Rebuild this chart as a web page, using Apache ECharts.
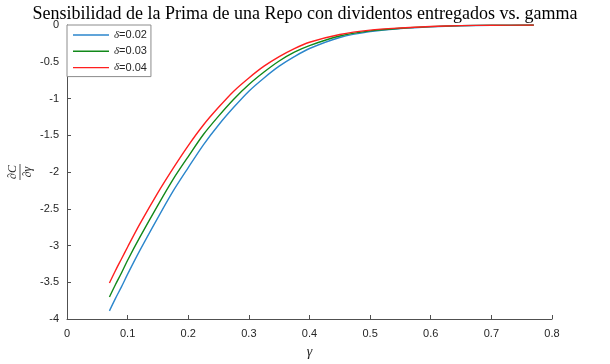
<!DOCTYPE html>
<html>
<head>
<meta charset="utf-8">
<script src="https://cdn.jsdelivr.net/npm/echarts@6/dist/echarts.min.js"></script>
<style>html,body{margin:0;padding:0;background:#fff}#c{width:610px;height:364px}</style>
</head>
<body>
<div id="c"></div>
<script>
var gammaVals = [0.07, 0.08, 0.09, 0.10, 0.12, 0.15, 0.175, 0.20, 0.225, 0.25, 0.275, 0.30, 0.325, 0.35, 0.375, 0.40, 0.45, 0.50, 0.55, 0.60, 0.65, 0.70, 0.77];
var seriesNames = ['δ=0.02', 'δ=0.03', 'δ=0.04'];
var delta002 = [-3.89, -3.72, -3.56, -3.39, -3.07, -2.62, -2.26, -1.94, -1.63, -1.36, -1.12, -0.90, -0.72, -0.56, -0.43, -0.32, -0.17, -0.09, -0.05, -0.025, -0.010, -0.004, -0.001];
var delta003 = [-3.70, -3.53, -3.37, -3.20, -2.89, -2.45, -2.10, -1.79, -1.49, -1.24, -1.01, -0.81, -0.64, -0.49, -0.37, -0.28, -0.15, -0.08, -0.045, -0.022, -0.009, -0.0035, -0.001];
var delta004 = [-3.51, -3.34, -3.18, -3.02, -2.71, -2.28, -1.95, -1.64, -1.36, -1.12, -0.90, -0.72, -0.56, -0.43, -0.32, -0.235, -0.13, -0.07, -0.04, -0.02, -0.008, -0.003, -0.001];
var xTicks = [0, 0.1, 0.2, 0.3, 0.4, 0.5, 0.6, 0.7, 0.8];
var yTicks = [-4, -3.5, -3, -2.5, -2, -1.5, -1, -0.5, 0];
var titleText = 'Sensibilidad de la Prima de una Repo con dividentos entregados vs. gamma';

var colors = ['#2b86cc', '#12891a', '#ff1f1f'];
var allData = [delta002, delta003, delta004];

function pairs(arr) { return gammaVals.map(function (g, i) { return [g, arr[i]]; }); }

var chart = echarts.init(document.getElementById('c'), null, {renderer: 'canvas'});
var axisCol = '#505050';
var labCol = '#262626';
var sans = '"Liberation Sans", Arial, sans-serif';
var serif = '"Liberation Serif", "DejaVu Serif", serif';

chart.setOption({
  animation: false,
  backgroundColor: '#fff',
  title: {
    text: titleText, left: 'center', top: 0,
    textStyle: {fontFamily: serif, fontSize: 18, fontWeight: 'normal', color: '#000'}
  },
  grid: {left: 67, right: 58, top: 25, bottom: 43.5, containLabel: false},
  legend: {
    orient: 'vertical', left: 67, top: 25,
    padding: [3, 4, 2, 6], itemGap: 2.3, itemWidth: 36, itemHeight: 14,
    backgroundColor: '#fff', borderColor: '#8c8c8c', borderWidth: 1,
    data: seriesNames.map(function (n, i) {
      return {name: n, icon: 'path://M0,0 L36,0 L36,1.4 L0,1.4 Z', itemStyle: {color: colors[i]}};
    }),
    formatter: function (n) { return '{d|δ}' + n.slice(1); },
    textStyle: {
      fontFamily: sans, fontSize: 11, color: labCol, lineHeight: 14,
      rich: {d: {fontFamily: serif, fontStyle: 'italic', fontSize: 11, color: labCol}}
    }
  },
  xAxis: {
    type: 'value', min: xTicks[0], max: xTicks[xTicks.length - 1], interval: 0.1,
    name: 'γ', nameLocation: 'middle', nameGap: 26,
    nameTextStyle: {fontFamily: serif, fontStyle: 'italic', fontSize: 14, color: labCol},
    axisLine: {onZero: false, lineStyle: {color: axisCol, width: 1}},
    axisTick: {inside: true, length: 4, lineStyle: {color: axisCol}},
    axisLabel: {margin: 9, fontFamily: sans, fontSize: 11, color: labCol,
      formatter: function (v) { return String(+v.toFixed(1)); }},
    splitLine: {show: false}
  },
  yAxis: {
    type: 'value', min: yTicks[0], max: yTicks[yTicks.length - 1], interval: 0.5,
    axisLine: {show: true, onZero: false, lineStyle: {color: axisCol, width: 1}},
    axisTick: {show: true, inside: true, length: 4, lineStyle: {color: axisCol}},
    axisLabel: {margin: 8, fontFamily: sans, fontSize: 11, color: labCol,
      formatter: function (v) { return String(+v.toFixed(1)); }},
    splitLine: {show: false}
  },
  series: allData.map(function (arr, i) {
    return {
      name: seriesNames[i], type: 'line', data: pairs(arr),
      symbol: 'none', smooth: 0.3,
      lineStyle: {color: colors[i], width: 1.4}, itemStyle: {color: colors[i]}
    };
  }),
  graphic: [{
    type: 'group', x: 20, y: 172, rotation: Math.PI / 2,
    children: [
      {type: 'text', x: 0, y: -1.5, style: {text: '∂C', fontFamily: serif, fontStyle: 'italic', fontSize: 12, fill: labCol, align: 'center', verticalAlign: 'bottom'}},
      {type: 'line', shape: {x1: -8, y1: 0, x2: 8, y2: 0}, style: {stroke: labCol, lineWidth: 0.8}},
      {type: 'text', x: 0, y: 1.5, style: {text: '∂γ', fontFamily: serif, fontStyle: 'italic', fontSize: 12, fill: labCol, align: 'center', verticalAlign: 'top'}}
    ]
  }]
});
</script>
</body>
</html>
